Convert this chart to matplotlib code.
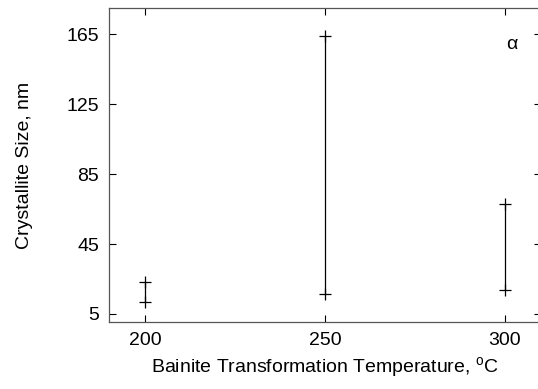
import matplotlib
matplotlib.use("Agg")
import matplotlib.pyplot as plt

# bainite transformation temperature, degC
temps = [200, 250, 300]
# crystallite size range, nm
size_low = [12, 16.5, 18.5]
size_high = [23, 164, 68]

yticks = [5, 45, 85, 125, 165]
xticks = [200, 250, 300]

plt.rcParams['font.family'] = ['Liberation Sans', 'DejaVu Sans']

fig = plt.figure(figsize=(5.38, 3.89), dpi=100)
ax = fig.add_axes([109 / 538, 1 - 322 / 389, 432 / 538, 314 / 389])

for t, lo, hi in zip(temps, size_low, size_high):
    ax.plot([t, t], [lo, hi], color='black', lw=0.9, marker='+', ms=8, mew=0.9)

ax.set_xlim(190, 310)
ax.set_ylim(0.4, 180)
ax.set_xticks(xticks)
ax.set_yticks(yticks)
ax.tick_params(direction='in', top=True, right=True, labelsize=14, length=5, width=0.8, pad=7)
for s in ax.spines.values():
    s.set_linewidth(0.9)
    s.set_color('#555555')

ax.text(301.8, 159, 'α', fontsize=14, ha='center', va='center')

ax.set_xlabel('Bainite Transformation Temperature, $^\\mathregular{o}$C', fontsize=14, labelpad=5)
ax.set_ylabel('Crystallite Size, nm', fontsize=14, labelpad=24)

fig.savefig('out.png', dpi=100)
